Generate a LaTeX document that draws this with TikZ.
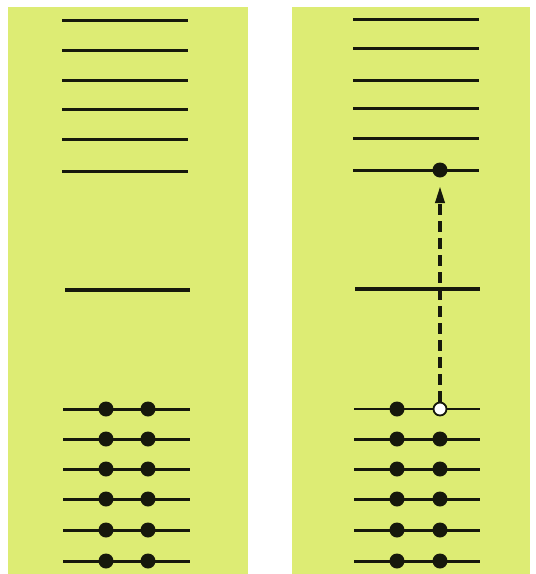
\documentclass[tikz,border=0pt]{standalone}
\usetikzlibrary{arrows.meta}
\definecolor{panelgreen}{RGB}{221,236,116}
\definecolor{ink}{RGB}{22,24,12}
\begin{document}
\begin{tikzpicture}[x=1pt,y=-1pt,
  level/.style={draw=ink,line width=3pt},
  biglevel/.style={draw=ink,line width=4pt},
  electron/.style={circle,fill=ink,minimum size=15pt,inner sep=0pt},
  hole/.style={circle,fill=white,draw=ink,line width=1.8pt,minimum size=13pt,inner sep=0pt},
  excite/.style={draw=ink,line width=3.5pt,dash pattern=on 11pt off 6pt,-{Triangle[length=17pt,width=9pt]}}]
\useasboundingbox (0,0) rectangle (536,574);
\fill[white] (0,0) rectangle (536,574);
\fill[panelgreen] (8,7) rectangle (248,574);
\fill[panelgreen] (292,7) rectangle (530,574);
% left panel: empty upper levels
\foreach \y in {20,50,80,109,139,171} \draw[level] (62,\y) -- (188,\y);
\draw[biglevel] (65,290) -- (190,290);
% left panel: filled lower levels
\foreach \y [count=\i] in {409,439,469,499,530,561} {
  \draw[level] (63,\y) -- (190,\y);
  \node[electron] (la\i) at (106,\y) {};
  \node[electron] (lb\i) at (148,\y) {};
}
% right panel: upper levels
\foreach \y in {19,48,80,108,138,170} \draw[level] (353,\y) -- (479,\y);
\node[electron] (ex) at (440,170) {};
\draw[biglevel] (355,289) -- (480,289);
% right panel: lower levels
\foreach \y [count=\i] in {439,469,499,530,561} {
  \draw[level] (354,\y) -- (480,\y);
  \node[electron] (ra\i) at (397,\y) {};
  \node[electron] (rb\i) at (440,\y) {};
}
\draw[level,line width=2.4pt] (354,409) -- (480,409);
\node[electron] (r0) at (397,409) {};
\node[hole] (h) at (440,409) {};
\coordinate (tip) at (440,186);
\draw[excite] (h) -- (tip);
\end{tikzpicture}
\end{document}
